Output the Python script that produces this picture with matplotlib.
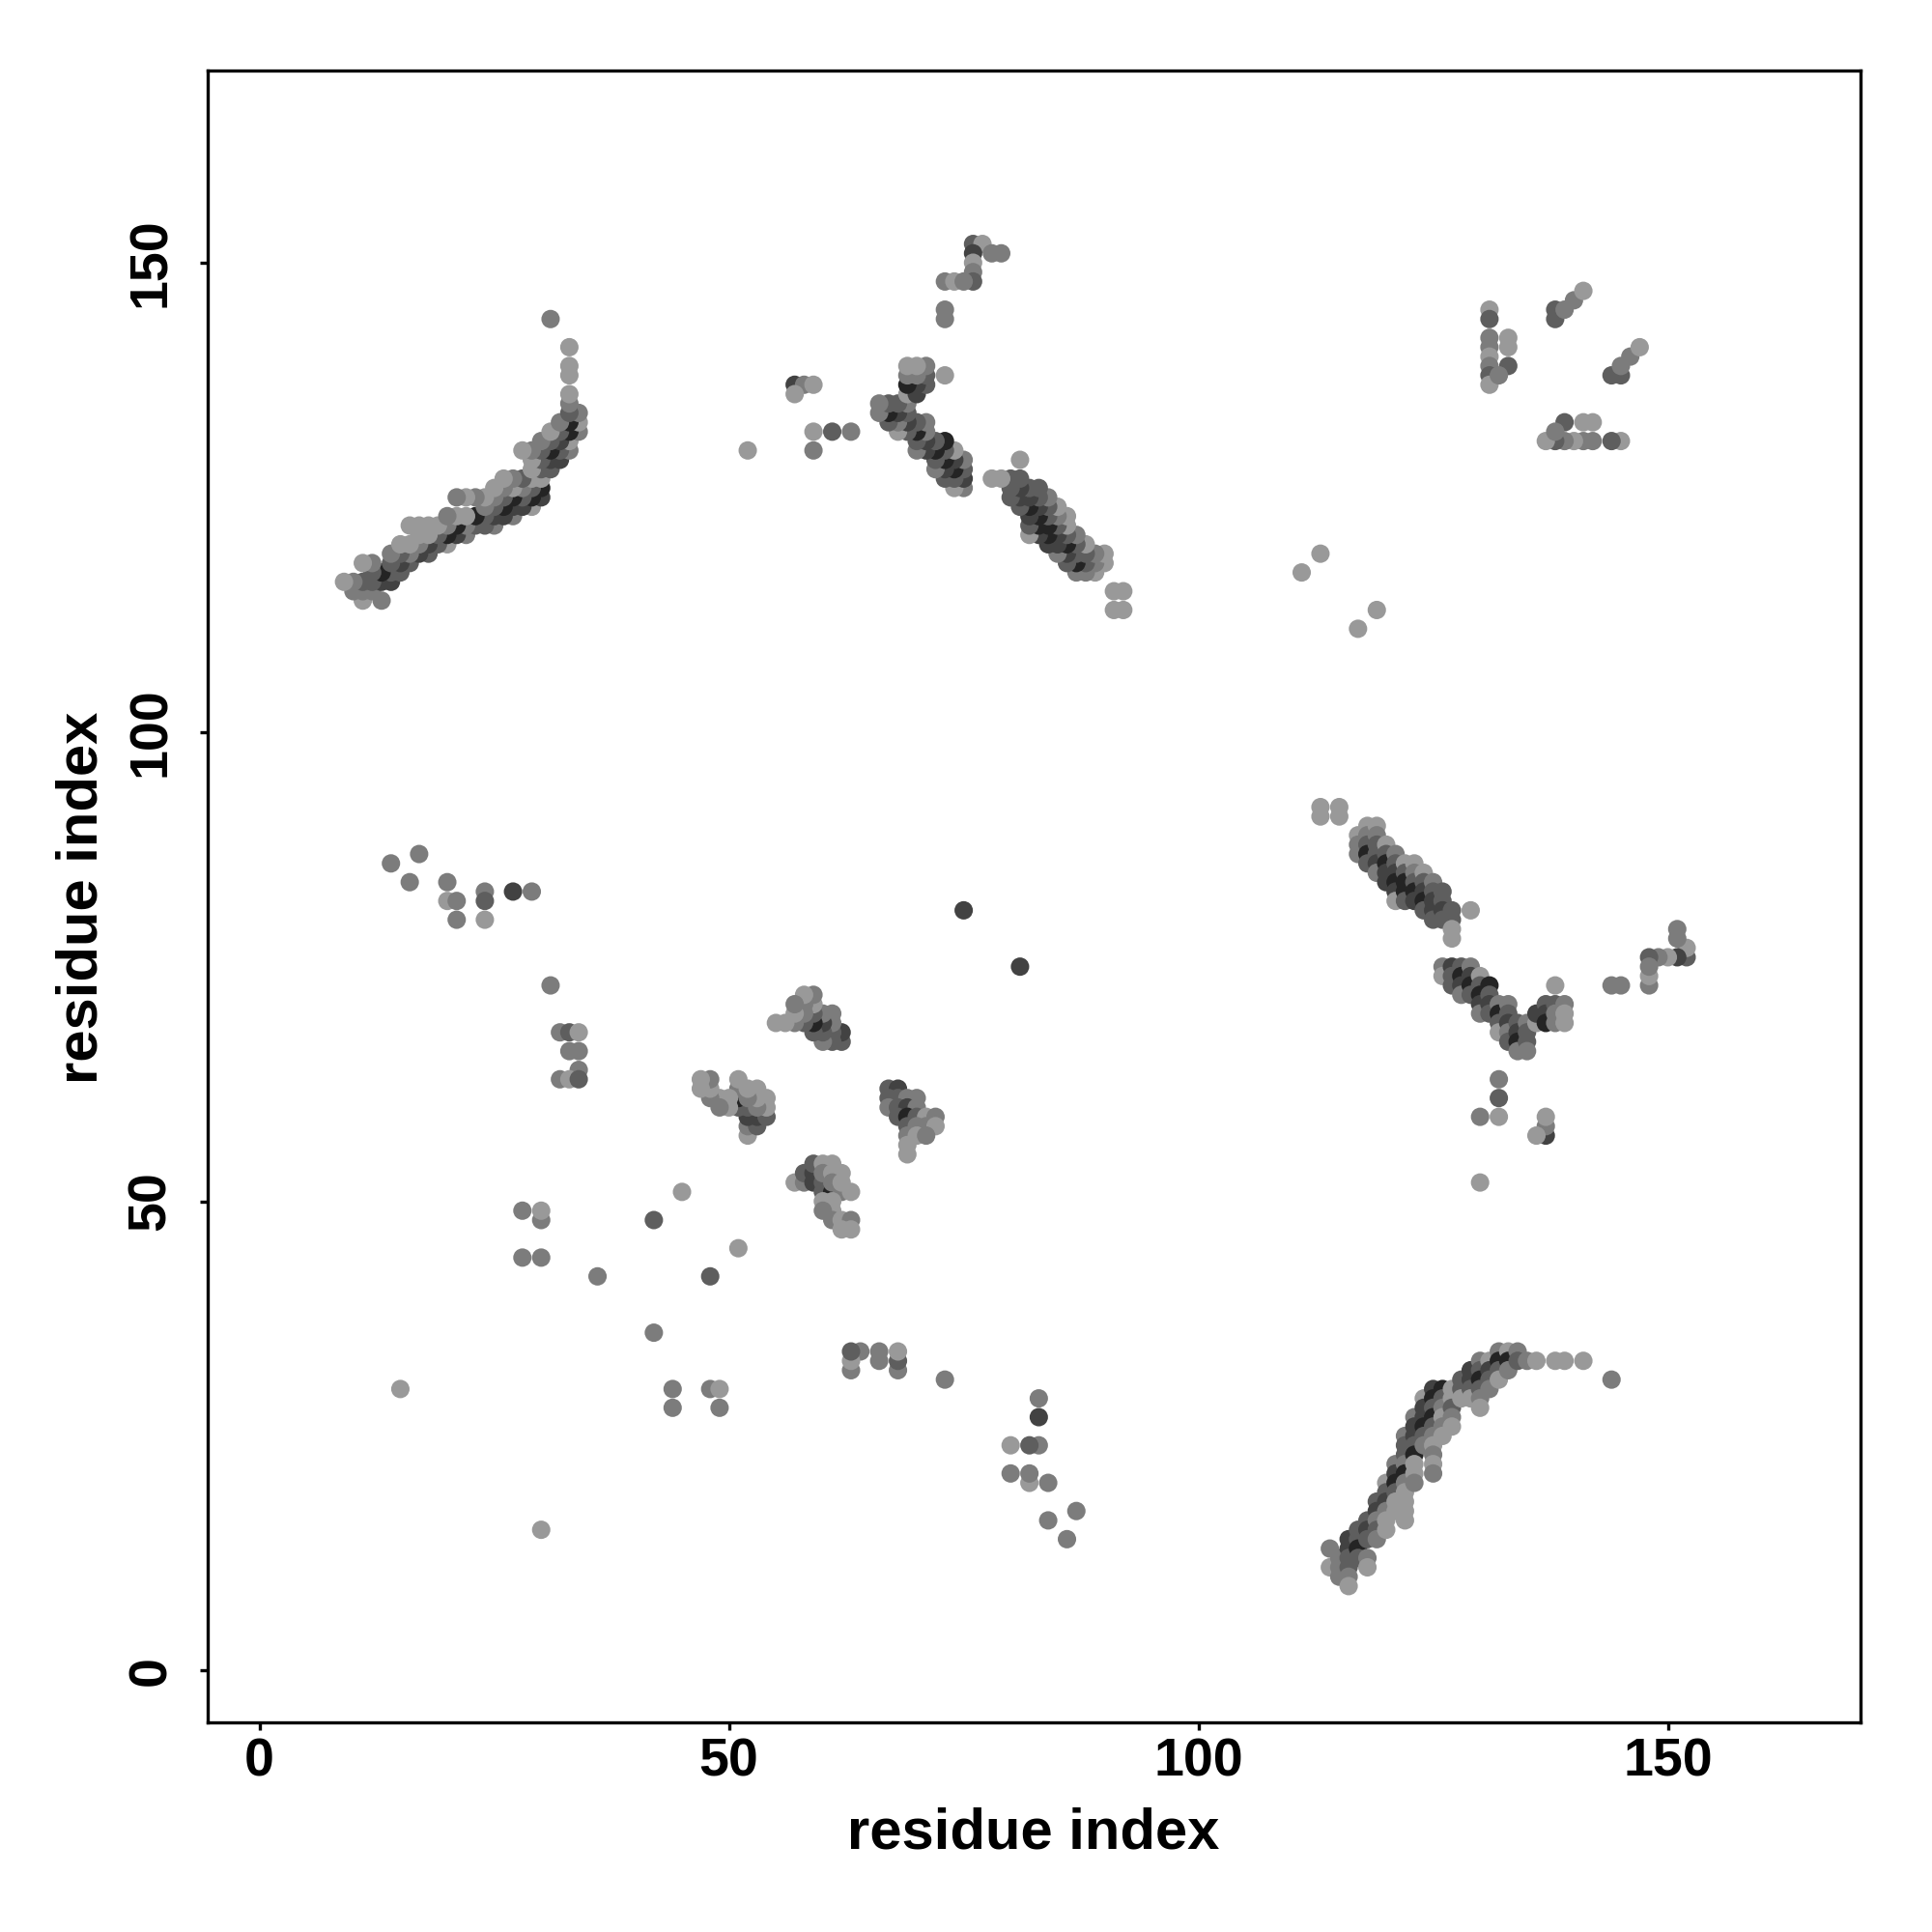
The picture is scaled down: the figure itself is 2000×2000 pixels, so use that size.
import matplotlib
matplotlib.use("Agg")
import matplotlib.pyplot as plt

# contact map: each contact (res_a, res_b, shade level) is drawn at (a, b) and (b, a)
# shade level 1 = light gray ... 5 = almost black
shade_colors = {1: "#999999", 2: "#7c7c7c", 3: "#5e5e5e", 4: "#424242", 5: "#242424"}

# long antiparallel band (lower right / upper left)
band_long = [
    (114, 13, 2), (114, 11, 1), (115, 12, 2), (115, 11, 2), (115, 10, 2),
    (116, 14, 4), (116, 13, 4), (116, 12, 3), (116, 11, 3), (116, 10, 2), (116, 9, 1),
    (117, 15, 3), (117, 14, 3), (117, 13, 5), (117, 12, 3),
    (118, 16, 3), (118, 15, 4), (118, 14, 3), (118, 12, 2), (118, 11, 1),
    (119, 18, 3), (119, 17, 4), (119, 16, 2), (119, 15, 3), (119, 14, 2),
    (120, 20, 1), (120, 19, 3), (120, 18, 4), (120, 17, 2), (120, 16, 1), (120, 15, 1),
    (121, 22, 2), (121, 21, 4), (121, 20, 5), (121, 19, 3), (121, 18, 1), (121, 17, 1),
    (122, 25, 2), (122, 24, 3), (122, 23, 3), (122, 22, 2), (122, 21, 5), (122, 20, 2),
    (122, 19, 1), (122, 18, 1), (122, 17, 1), (122, 16, 1),
    (123, 27, 2), (123, 26, 4), (123, 25, 4), (123, 24, 3), (123, 23, 5), (123, 22, 1),
    (123, 21, 1), (123, 20, 2),
    (124, 29, 1), (124, 28, 4), (124, 27, 4), (124, 26, 5), (124, 25, 3), (124, 24, 2),
    (125, 30, 4), (125, 29, 5), (125, 28, 3), (125, 27, 5), (125, 26, 3), (125, 25, 2),
    (125, 24, 1), (125, 23, 2), (125, 22, 1), (125, 21, 2),
    (126, 30, 5), (126, 29, 3), (126, 28, 2), (126, 27, 1), (126, 26, 2), (126, 25, 1),
    (127, 30, 1), (127, 29, 1), (127, 28, 3), (127, 27, 2), (127, 26, 1),
    (128, 31, 3), (128, 30, 3), (128, 29, 1),
    (129, 32, 4), (129, 31, 4), (129, 30, 3), (129, 29, 1),
    (130, 33, 2), (130, 32, 3), (130, 31, 5), (130, 30, 3), (130, 29, 2), (130, 28, 1),
    (131, 33, 1), (131, 32, 4), (131, 31, 3), (131, 30, 2),
    (132, 34, 2), (132, 33, 5), (132, 32, 3), (132, 31, 1),
    (133, 34, 1), (133, 33, 5), (133, 32, 2), (134, 34, 2), (134, 33, 3),
    (135, 33, 2), (136, 33, 1), (138, 33, 1), (139, 33, 1), (141, 33, 1), (144, 31, 2),
]

# diagonal band around 117-129 x 78-90
band_mid = [
    (117, 89, 1), (117, 88, 2), (117, 87, 2),
    (118, 90, 1), (118, 89, 2), (118, 88, 3), (118, 87, 5), (118, 86, 3),
    (119, 90, 1), (119, 89, 2), (119, 88, 3), (119, 87, 3), (119, 86, 4), (119, 85, 2),
    (120, 88, 1), (120, 87, 3), (120, 86, 5), (120, 85, 4), (120, 84, 4),
    (121, 87, 2), (121, 86, 3), (121, 85, 4), (121, 84, 5), (121, 83, 4), (121, 82, 1),
    (122, 86, 1), (122, 85, 3), (122, 84, 5), (122, 83, 5), (122, 82, 3),
    (123, 86, 1), (123, 85, 2), (123, 84, 3), (123, 83, 5), (123, 82, 4),
    (124, 85, 1), (124, 84, 3), (124, 83, 4), (124, 82, 5), (124, 81, 3),
    (125, 84, 2), (125, 83, 3), (125, 82, 4), (125, 81, 4), (125, 80, 3),
    (126, 83, 3), (126, 82, 3), (126, 81, 4), (126, 80, 3),
    (127, 81, 3), (127, 80, 3), (127, 79, 1), (127, 78, 1), (129, 81, 1),
    (113, 92, 1), (115, 92, 1), (113, 91, 1), (115, 91, 1),
]

# V shaped cluster 126-139 x 66-75
band_v = [
    (126, 75, 2), (126, 74, 1), (127, 75, 4), (127, 74, 3), (127, 73, 3),
    (128, 75, 3), (128, 74, 5), (128, 73, 4), (128, 72, 2),
    (129, 75, 2), (129, 74, 4), (129, 73, 5), (129, 72, 3),
    (130, 74, 1), (130, 73, 3), (130, 72, 5), (130, 71, 4), (130, 70, 2),
    (131, 73, 5), (131, 72, 3), (131, 71, 4), (131, 70, 3),
    (132, 71, 2), (132, 70, 5), (132, 69, 3), (132, 68, 1),
    (133, 71, 2), (133, 70, 3), (133, 69, 4), (133, 68, 2), (133, 67, 3),
    (134, 69, 3), (134, 68, 4), (134, 67, 5), (134, 66, 2),
    (135, 69, 2), (135, 68, 3), (135, 67, 3), (135, 66, 2),
    (136, 69, 1), (136, 70, 4), (137, 71, 3), (137, 70, 4), (137, 69, 5),
    (138, 73, 1), (138, 71, 3), (138, 70, 2), (138, 69, 2),
    (139, 71, 2), (139, 70, 1), (139, 69, 1),
]

# small clusters in the middle
cluster_c = [
    (67, 62, 3), (68, 62, 4), (67, 61, 3), (68, 61, 3), (69, 61, 2), (70, 61, 2),
    (67, 60, 2), (68, 60, 3), (69, 60, 4), (70, 60, 2),
    (68, 59, 3), (69, 59, 5), (70, 59, 3), (71, 59, 1), (72, 59, 2),
    (69, 58, 3), (70, 58, 2), (71, 58, 2), (72, 58, 1),
    (69, 57, 2), (70, 57, 1), (71, 57, 2), (69, 56, 1), (69, 55, 1),
]
cluster_d = [
    (57, 52, 1), (58, 52, 2), (58, 53, 3), (59, 53, 4), (59, 54, 3), (60, 54, 1), (61, 54, 1),
    (59, 52, 4), (60, 52, 3), (60, 53, 2), (61, 53, 1), (62, 53, 1),
    (60, 51, 3), (61, 51, 5), (62, 51, 2), (63, 51, 1), (61, 52, 2), (62, 52, 1),
    (60, 50, 1), (61, 50, 1), (61, 49, 1), (60, 49, 2),
    (61, 48, 2), (62, 48, 1), (63, 48, 2), (62, 47, 1), (63, 47, 1),
]

# scattered contacts
singles = [
    (45, 51, 1), (28, 49, 2), (30, 48, 2), (30, 49, 1), (42, 48, 3),
    (28, 44, 2), (30, 44, 2), (36, 42, 2), (15, 30, 1), (75, 81, 4),
    (17, 87, 2), (14, 86, 2), (16, 84, 2), (20, 84, 2), (20, 82, 1), (21, 82, 2),
    (21, 80, 2), (24, 83, 2), (24, 82, 3), (24, 80, 1), (27, 83, 4), (29, 83, 2),
    (31, 73, 2), (32, 68, 2), (33, 68, 3), (34, 68, 1), (33, 66, 2), (34, 66, 2),
    (34, 64, 2), (32, 63, 2), (33, 63, 1), (34, 63, 3),
    (57, 137, 4), (58, 137, 2), (59, 137, 1), (57, 136, 1),
    (59, 132, 1), (61, 132, 3), (63, 132, 2), (59, 130, 2), (52, 130, 1),
    (76, 152, 3), (77, 152, 1), (78, 151, 2), (79, 151, 2), (76, 151, 4),
    (76, 150, 1), (76, 149, 2), (76, 148, 3), (73, 148, 2), (74, 148, 1),
    (75, 148, 2), (73, 145, 2), (73, 144, 2),
    (113, 119, 1), (111, 117, 1),
    (131, 145, 1), (131, 144, 3), (131, 142, 2), (131, 141, 2), (131, 140, 1),
    (131, 139, 2), (131, 138, 3), (131, 137, 1),
    (133, 142, 1), (133, 141, 1), (133, 139, 3), (132, 138, 2),
    (138, 145, 3), (138, 144, 3), (139, 145, 2), (140, 146, 2), (141, 147, 1),
]

contacts = band_long + band_mid + band_v + cluster_c + cluster_d + singles

xs, ys, cols = [], [], []
for a, b, lev in contacts:
    xs += [a, b]
    ys += [b, a]
    cols += [shade_colors[lev]] * 2

plt.rcParams["font.family"] = ["Liberation Sans", "DejaVu Sans"]
plt.rcParams["font.weight"] = "bold"

fig = plt.figure(figsize=(10, 10), dpi=200)
ax = fig.add_axes([0.1075, 0.1085, 0.8555, 0.8552])

ax.scatter(xs, ys, s=47, c=cols, linewidths=0)

ax.set_xlim(-5.52, 170.52)
ax.set_ylim(-5.52, 170.52)
ax.set_xticks([0, 50, 100, 150])
ax.set_yticks([0, 50, 100, 150])
for sp in ax.spines.values():
    sp.set_linewidth(1.2)
ax.tick_params(axis="both", labelsize=20, width=1.2, length=3)
ax.tick_params(axis="x", pad=2.5)
ax.tick_params(axis="y", pad=8.5, labelrotation=90)
for lab in ax.get_yticklabels():
    lab.set_verticalalignment("center")

fig.text(0.535, 0.051, "residue index", ha="center", va="center",
         fontsize=21.5, fontweight="bold")
fig.text(0.0425, 0.5355, "residue index", ha="center", va="center",
         rotation=90, fontsize=21.5, fontweight="bold")

fig.savefig("out.png", dpi=200)
